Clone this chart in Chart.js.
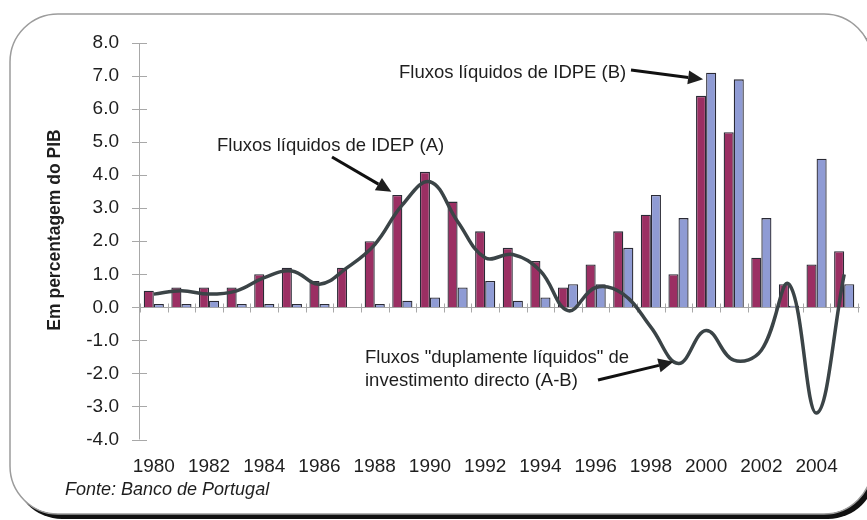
<!DOCTYPE html>
<html>
<head>
<meta charset="utf-8">
<script src="https://cdn.jsdelivr.net/npm/chart.js@4.4.1/dist/chart.umd.min.js"></script>
<style>
  html, body { margin: 0; padding: 0; background: #fff; }
</style>
</head>
<body>
<canvas id="grafico" width="867" height="520"></canvas>
<script>
// =======================================================
// Dados (em % do PIB)
// =======================================================

const anos = ["1980","1981","1982","1983","1984","1985","1986","1987","1988","1989",
              "1990","1991","1992","1993","1994","1995","1996","1997","1998","1999",
              "2000","2001","2002","2003","2004","2005"];

// Fluxos líquidos de IDEP (A)
const idep = [0.5,0.6,0.6,0.6,1.0,1.2,0.8,1.2,2.0,3.4,
              4.1,3.2,2.3,1.8,1.4,0.6,1.3,2.3,2.8,1.0,
              6.4,5.3,1.5,0.7,1.3,1.7];

// Fluxos líquidos de IDPE (B)
const idpe = [0.1,0.1,0.2,0.1,0.1,0.1,0.1,0.0,0.1,0.2,
              0.3,0.6,0.8,0.2,0.3,0.7,0.7,1.8,3.4,2.7,
              7.1,6.9,2.7,0.05,4.5,0.7];

// Fluxos "duplamente líquidos" (A-B)
const duplo = [0.4,0.5,0.4,0.5,0.9,1.1,0.7,1.2,1.9,3.1,
               3.8,2.6,1.5,1.6,1.1,-0.1,0.6,0.4,-0.6,-1.7,
               -0.7,-1.6,-1.3,0.7,-3.2,1.0];

const eixoY = { min: -4, max: 8, passo: 1 };

const FONTE = "'Liberation Sans', Arial, sans-serif";


// =======================================================
// Moldura arredondada com sombra
// =======================================================

const moldura = {
    id: "moldura",
    beforeDraw(chart){
        const ctx = chart.ctx;
        ctx.save();
        ctx.fillStyle = "#fff";
        ctx.fillRect(0, 0, chart.width, chart.height);

        ctx.fillStyle = "#111";
        ctx.beginPath();
        ctx.roundRect(14, 19, 862, 500, 48);
        ctx.fill();

        ctx.fillStyle = "#fff";
        ctx.strokeStyle = "#9c9c9c";
        ctx.lineWidth = 1.5;
        ctx.beginPath();
        ctx.roundRect(10, 14, 862, 500, 48);
        ctx.fill();
        ctx.stroke();
        ctx.restore();
    }
};


// =======================================================
// Eixos ao estilo Excel (marcas cruzadas, eixo X no zero)
// =======================================================

const eixos = {
    id: "eixos",
    beforeDatasetsDraw(chart){
        const ctx = chart.ctx;
        const x = chart.scales.x, y = chart.scales.y;
        const area = chart.chartArea;
        const y0 = y.getPixelForValue(0);

        ctx.save();
        ctx.strokeStyle = "#a8a8a8";
        ctx.lineWidth = 1;

        // eixo vertical
        ctx.beginPath();
        ctx.moveTo(area.left - 0.5, y.getPixelForValue(eixoY.max));
        ctx.lineTo(area.left - 0.5, y.getPixelForValue(eixoY.min));
        for (let v = eixoY.min; v <= eixoY.max; v += eixoY.passo){
            const py = Math.round(y.getPixelForValue(v)) + 0.5;
            ctx.moveTo(area.left - 8, py);
            ctx.lineTo(area.left + 7, py);
        }
        ctx.stroke();

        // linha do zero e marcas entre categorias
        ctx.beginPath();
        const yz = Math.round(y0) + 0.5;
        ctx.moveTo(area.left, yz);
        ctx.lineTo(area.right + 2, yz);
        for (let i = 0; i <= anos.length; i++){
            const px = Math.round(x.getPixelForValue(i - 0.5)) + 0.5;
            ctx.moveTo(px, yz - 4);
            ctx.lineTo(px, yz + 5);
        }
        ctx.stroke();
        ctx.restore();
    }
};


// =======================================================
// Anotações, setas, título do eixo e fonte
// =======================================================

function seta(ctx, x1, y1, x2, y2){
    const ang = Math.atan2(y2 - y1, x2 - x1);
    const comp = 15, larg = 7;
    const bx = x2 - comp * Math.cos(ang), by = y2 - comp * Math.sin(ang);
    ctx.beginPath();
    ctx.moveTo(x1, y1);
    ctx.lineTo(bx, by);
    ctx.lineWidth = 3;
    ctx.stroke();
    ctx.beginPath();
    ctx.moveTo(x2, y2);
    ctx.lineTo(bx + larg * Math.sin(ang), by - larg * Math.cos(ang));
    ctx.lineTo(bx - larg * Math.sin(ang), by + larg * Math.cos(ang));
    ctx.closePath();
    ctx.fill();
}

const anotacoes = {
    id: "anotacoes",
    afterDraw(chart){
        const ctx = chart.ctx;
        const x = chart.scales.x, y = chart.scales.y;
        ctx.save();
        ctx.fillStyle = "#1e1e1e";
        ctx.strokeStyle = "#111";
        ctx.textBaseline = "middle";
        ctx.textAlign = "left";
        ctx.font = "18.5px " + FONTE;

        ctx.fillText("Fluxos líquidos de IDPE (B)", 399, 73);
        seta(ctx, 631, 70, x.getPixelForValue(20) - 3, y.getPixelForValue(6.9));

        ctx.fillText("Fluxos líquidos de IDEP (A)", 217, 146);
        seta(ctx, 332, 157, x.getPixelForValue(9) - 11, y.getPixelForValue(3.5));

        ctx.fillText("Fluxos \"duplamente líquidos\" de", 365, 358);
        ctx.fillText("investimento directo (A-B)", 365, 381);
        seta(ctx, 598, 380, x.getPixelForValue(19) - 5, y.getPixelForValue(-1.65));

        // título do eixo Y
        ctx.save();
        ctx.translate(55, 230);
        ctx.rotate(-Math.PI / 2);
        ctx.textAlign = "center";
        ctx.font = "bold 17.5px " + FONTE;
        ctx.fillText("Em percentagem do PIB", 0, 0);
        ctx.restore();

        // fonte
        ctx.font = "italic 18px " + FONTE;
        ctx.fillText("Fonte: Banco de Portugal", 65, 490);
        ctx.restore();
    }
};


// =======================================================
// Gráfico
// =======================================================

new Chart(document.getElementById("grafico"), {

    type: "bar",

    data: {
        labels: anos,
        datasets: [
            {
                type: "line",
                label: "A-B",
                data: duplo,
                borderColor: "#3b4447",
                borderWidth: 3.5,
                tension: 0.4,
                pointRadius: 0,
                fill: false,
                order: 0
            },
            {
                label: "IDEP (A)",
                data: idep,
                backgroundColor: "#9b2f63",
                borderColor: "#2a2a35",
                borderWidth: 1.3,
                categoryPercentage: 0.73,
                barPercentage: 1,
                order: 1
            },
            {
                label: "IDPE (B)",
                data: idpe,
                backgroundColor: "#8f9bd4",
                borderColor: "#2a2a35",
                borderWidth: 1.3,
                categoryPercentage: 0.73,
                barPercentage: 1,
                order: 2
            }
        ]
    },

    options: {
        responsive: false,
        animation: false,
        layout: { padding: { left: 10, right: 9, top: 43, bottom: 0 } },
        plugins: {
            legend: { display: false },
            tooltip: { enabled: false }
        },
        scales: {
            x: {
                offset: true,
                grid: { display: false, drawTicks: false },
                border: { display: false },
                ticks: {
                    autoSkip: false,
                    maxRotation: 0,
                    padding: 16,
                    color: "#1e1e1e",
                    font: { family: FONTE, size: 19 },
                    callback: (v, i) => i % 2 === 0 ? anos[i] : ""
                },
                afterFit(s){ s.height = 80.5; }
            },
            y: {
                min: eixoY.min,
                max: eixoY.max,
                grid: { display: false, drawTicks: false },
                border: { display: false },
                ticks: {
                    stepSize: eixoY.passo,
                    padding: 21,
                    color: "#1e1e1e",
                    font: { family: FONTE, size: 19 },
                    callback: v => v.toFixed(1)
                },
                afterFit(s){ s.width = 130; }
            }
        }
    },

    plugins: [moldura, eixos, anotacoes]
});
</script>
</body>
</html>
